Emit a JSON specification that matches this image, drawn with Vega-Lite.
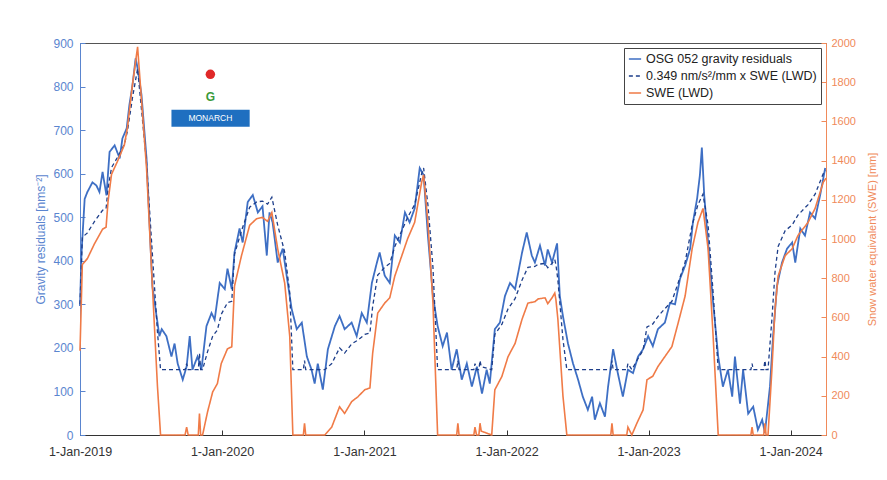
{
  "$schema": "https://vega.github.io/schema/vega-lite/v6.json",
  "width": 746,
  "height": 392,
  "autosize": {"type": "none"},
  "padding": {"left": 80, "top": 43, "right": 61, "bottom": 45},
  "background": "white",
  "config": {
    "font": "Liberation Sans",
    "view": {"stroke": "#555555", "strokeWidth": 1},
    "axis": {"grid": false, "titleFontWeight": "normal", "labelFont": "Liberation Sans", "titleFont": "Liberation Sans"}
  },
  "datasets": {
    "logo_bar": [{"d": "2019-08-24", "d2": "2020-03-12", "v": 747, "v2": 708}],
    "logo_text": [{"d": "2019-12-02", "v": 727, "t": "MONARCH"}],
    "logo_g": [{"d": "2019-12-02", "v": 777, "t": "G"}],
    "logo_dot": [{"d": "2019-12-02", "v": 828}],
    "series": [
      {"d":"2019-01-01","s":"g","v":296},{"d":"2019-01-05","s":"g","v":420},{"d":"2019-01-13","s":"g","v":542},{"d":"2019-01-20","s":"g","v":558},{"d":"2019-02-02","s":"g","v":580},{"d":"2019-02-12","s":"g","v":573},{"d":"2019-02-20","s":"g","v":558},{"d":"2019-02-28","s":"g","v":604},{"d":"2019-03-10","s":"g","v":550},{"d":"2019-03-18","s":"g","v":650},{"d":"2019-03-31","s":"g","v":665},{"d":"2019-04-13","s":"g","v":635},{"d":"2019-04-20","s":"g","v":681},{"d":"2019-05-01","s":"g","v":704},{"d":"2019-05-08","s":"g","v":758},{"d":"2019-05-16","s":"g","v":804},{"d":"2019-05-24","s":"g","v":865},{"d":"2019-05-29","s":"g","v":842},{"d":"2019-06-08","s":"g","v":781},{"d":"2019-06-21","s":"g","v":635},{"d":"2019-07-06","s":"g","v":342},{"d":"2019-07-12","s":"g","v":303},{"d":"2019-07-24","s":"g","v":227},{"d":"2019-07-30","s":"g","v":243},{"d":"2019-08-11","s":"g","v":227},{"d":"2019-08-24","s":"g","v":180},{"d":"2019-09-01","s":"g","v":210},{"d":"2019-09-09","s":"g","v":164},{"d":"2019-09-22","s":"g","v":127},{"d":"2019-10-02","s":"g","v":157},{"d":"2019-10-10","s":"g","v":227},{"d":"2019-10-17","s":"g","v":150},{"d":"2019-10-30","s":"g","v":180},{"d":"2019-11-09","s":"g","v":150},{"d":"2019-11-22","s":"g","v":250},{"d":"2019-12-05","s":"g","v":280},{"d":"2019-12-13","s":"g","v":265},{"d":"2019-12-26","s":"g","v":349},
      {"d":"2020-01-08","s":"g","v":335},{"d":"2020-01-15","s":"g","v":382},{"d":"2020-01-26","s":"g","v":335},{"d":"2020-02-02","s":"g","v":419},{"d":"2020-02-15","s":"g","v":474},{"d":"2020-02-23","s":"g","v":442},{"d":"2020-03-07","s":"g","v":535},{"d":"2020-03-20","s":"g","v":551},{"d":"2020-04-02","s":"g","v":511},{"d":"2020-04-14","s":"g","v":525},{"d":"2020-04-25","s":"g","v":412},{"d":"2020-05-02","s":"g","v":511},{"d":"2020-05-10","s":"g","v":488},{"d":"2020-05-23","s":"g","v":396},{"d":"2020-06-05","s":"g","v":428},{"d":"2020-06-15","s":"g","v":366},{"d":"2020-06-28","s":"g","v":289},{"d":"2020-07-11","s":"g","v":243},{"d":"2020-07-24","s":"g","v":258},{"d":"2020-08-06","s":"g","v":180},{"d":"2020-08-18","s":"g","v":150},{"d":"2020-08-26","s":"g","v":118},{"d":"2020-09-03","s":"g","v":164},{"d":"2020-09-16","s":"g","v":104},{"d":"2020-09-29","s":"g","v":197},{"d":"2020-10-17","s":"g","v":250},{"d":"2020-10-29","s":"g","v":273},{"d":"2020-11-11","s":"g","v":243},{"d":"2020-11-29","s":"g","v":258},{"d":"2020-12-12","s":"g","v":227},{"d":"2020-12-25","s":"g","v":280},
      {"d":"2021-01-07","s":"g","v":258},{"d":"2021-01-20","s":"g","v":349},{"d":"2021-02-02","s":"g","v":396},{"d":"2021-02-09","s":"g","v":419},{"d":"2021-02-22","s":"g","v":366},{"d":"2021-03-07","s":"g","v":349},{"d":"2021-03-20","s":"g","v":458},{"d":"2021-04-02","s":"g","v":442},{"d":"2021-04-15","s":"g","v":511},{"d":"2021-04-27","s":"g","v":488},{"d":"2021-05-10","s":"g","v":520},{"d":"2021-05-23","s":"g","v":613},{"d":"2021-06-02","s":"g","v":597},{"d":"2021-06-13","s":"g","v":458},{"d":"2021-06-26","s":"g","v":319},{"d":"2021-07-08","s":"g","v":250},{"d":"2021-07-21","s":"g","v":204},{"d":"2021-08-01","s":"g","v":235},{"d":"2021-08-13","s":"g","v":150},{"d":"2021-08-26","s":"g","v":197},{"d":"2021-09-08","s":"g","v":127},{"d":"2021-09-21","s":"g","v":164},{"d":"2021-10-04","s":"g","v":111},{"d":"2021-10-17","s":"g","v":157},{"d":"2021-10-30","s":"g","v":95},{"d":"2021-11-11","s":"g","v":150},{"d":"2021-11-19","s":"g","v":118},{"d":"2021-12-02","s":"g","v":243},{"d":"2021-12-15","s":"g","v":258},{"d":"2021-12-28","s":"g","v":319},
      {"d":"2022-01-10","s":"g","v":349},{"d":"2022-01-23","s":"g","v":335},{"d":"2022-02-10","s":"g","v":419},{"d":"2022-02-22","s":"g","v":465},{"d":"2022-03-07","s":"g","v":412},{"d":"2022-03-15","s":"g","v":396},{"d":"2022-03-28","s":"g","v":435},{"d":"2022-04-10","s":"g","v":389},{"d":"2022-04-17","s":"g","v":426},{"d":"2022-04-28","s":"g","v":396},{"d":"2022-05-11","s":"g","v":440},{"d":"2022-05-18","s":"g","v":319},{"d":"2022-05-26","s":"g","v":273},{"d":"2022-06-08","s":"g","v":210},{"d":"2022-06-21","s":"g","v":164},{"d":"2022-07-04","s":"g","v":127},{"d":"2022-07-16","s":"g","v":88},{"d":"2022-07-29","s":"g","v":58},{"d":"2022-08-09","s":"g","v":88},{"d":"2022-08-16","s":"g","v":35},{"d":"2022-08-29","s":"g","v":73},{"d":"2022-09-11","s":"g","v":42},{"d":"2022-09-19","s":"g","v":111},{"d":"2022-10-02","s":"g","v":197},{"d":"2022-10-14","s":"g","v":142},{"d":"2022-10-27","s":"g","v":88},{"d":"2022-11-09","s":"g","v":150},{"d":"2022-11-22","s":"g","v":142},{"d":"2022-12-05","s":"g","v":180},{"d":"2022-12-18","s":"g","v":197},{"d":"2022-12-31","s":"g","v":227},
      {"d":"2023-01-12","s":"g","v":204},{"d":"2023-01-25","s":"g","v":243},{"d":"2023-02-12","s":"g","v":258},{"d":"2023-02-25","s":"g","v":303},{"d":"2023-03-10","s":"g","v":300},{"d":"2023-03-23","s":"g","v":359},{"d":"2023-04-05","s":"g","v":389},{"d":"2023-04-18","s":"g","v":428},{"d":"2023-04-25","s":"g","v":488},{"d":"2023-05-06","s":"g","v":544},{"d":"2023-05-13","s":"g","v":597},{"d":"2023-05-18","s":"g","v":660},{"d":"2023-05-24","s":"g","v":551},{"d":"2023-06-03","s":"g","v":442},{"d":"2023-06-16","s":"g","v":303},{"d":"2023-06-29","s":"g","v":180},{"d":"2023-07-11","s":"g","v":111},{"d":"2023-07-24","s":"g","v":150},{"d":"2023-08-04","s":"g","v":88},{"d":"2023-08-11","s":"g","v":180},{"d":"2023-08-24","s":"g","v":72},{"d":"2023-09-01","s":"g","v":150},{"d":"2023-09-14","s":"g","v":49},{"d":"2023-09-27","s":"g","v":65},{"d":"2023-10-09","s":"g","v":12},{"d":"2023-10-20","s":"g","v":35},{"d":"2023-10-27","s":"g","v":5},{"d":"2023-11-09","s":"g","v":111},{"d":"2023-11-17","s":"g","v":227},{"d":"2023-11-27","s":"g","v":342},{"d":"2023-12-10","s":"g","v":396},{"d":"2023-12-23","s":"g","v":428},
      {"d":"2024-01-05","s":"g","v":442},{"d":"2024-01-13","s":"g","v":396},{"d":"2024-01-26","s":"g","v":474},{"d":"2024-02-07","s":"g","v":458},{"d":"2024-02-20","s":"g","v":511},{"d":"2024-03-04","s":"g","v":497},{"d":"2024-03-17","s":"g","v":551},{"d":"2024-03-30","s":"g","v":613},

      {"d":"2019-01-01","s":"w","v":430},{"d":"2019-01-07","s":"w","v":870},{"d":"2019-01-20","s":"w","v":900},{"d":"2019-02-07","s":"w","v":975},{"d":"2019-02-28","s":"w","v":1050},{"d":"2019-03-09","s":"w","v":1060},{"d":"2019-03-14","s":"w","v":1190},{"d":"2019-03-23","s":"w","v":1330},{"d":"2019-04-07","s":"w","v":1395},{"d":"2019-04-25","s":"w","v":1480},{"d":"2019-05-03","s":"w","v":1570},{"d":"2019-05-16","s":"w","v":1790},{"d":"2019-05-29","s":"w","v":1980},{"d":"2019-06-21","s":"w","v":1360},{"d":"2019-07-06","s":"w","v":760},{"d":"2019-07-19","s":"w","v":250},{"d":"2019-07-27","s":"w","v":0},{"d":"2019-09-28","s":"w","v":0},{"d":"2019-10-02","s":"w","v":40},{"d":"2019-10-06","s":"w","v":0},{"d":"2019-11-01","s":"w","v":0},{"d":"2019-11-04","s":"w","v":110},{"d":"2019-11-07","s":"w","v":0},{"d":"2019-11-12","s":"w","v":0},{"d":"2019-11-25","s":"w","v":120},{"d":"2019-12-08","s":"w","v":220},{"d":"2019-12-20","s":"w","v":262},{"d":"2019-12-30","s":"w","v":365},
      {"d":"2020-01-15","s":"w","v":440},{"d":"2020-01-26","s":"w","v":450},{"d":"2020-02-02","s":"w","v":760},{"d":"2020-02-20","s":"w","v":915},{"d":"2020-03-12","s":"w","v":1070},{"d":"2020-03-30","s":"w","v":1104},{"d":"2020-04-14","s":"w","v":1110},{"d":"2020-04-27","s":"w","v":1090},{"d":"2020-05-08","s":"w","v":1135},{"d":"2020-05-23","s":"w","v":950},{"d":"2020-06-10","s":"w","v":775},{"d":"2020-06-23","s":"w","v":503},{"d":"2020-07-01","s":"w","v":0},{"d":"2020-07-28","s":"w","v":0},{"d":"2020-07-31","s":"w","v":60},{"d":"2020-08-03","s":"w","v":0},{"d":"2020-09-21","s":"w","v":0},{"d":"2020-10-09","s":"w","v":41},{"d":"2020-10-29","s":"w","v":144},{"d":"2020-11-11","s":"w","v":110},{"d":"2020-11-29","s":"w","v":170},{"d":"2020-12-15","s":"w","v":195},
      {"d":"2021-01-02","s":"w","v":231},{"d":"2021-01-15","s":"w","v":240},{"d":"2021-01-22","s":"w","v":416},{"d":"2021-02-04","s":"w","v":622},{"d":"2021-02-22","s":"w","v":673},{"d":"2021-03-07","s":"w","v":700},{"d":"2021-03-20","s":"w","v":811},{"d":"2021-04-07","s":"w","v":915},{"d":"2021-04-22","s":"w","v":1002},{"d":"2021-05-10","s":"w","v":1085},{"d":"2021-05-28","s":"w","v":1290},{"d":"2021-06-02","s":"w","v":1327},{"d":"2021-06-13","s":"w","v":1085},{"d":"2021-06-26","s":"w","v":673},{"d":"2021-07-08","s":"w","v":0},{"d":"2021-08-26","s":"w","v":0},{"d":"2021-08-29","s":"w","v":60},{"d":"2021-09-01","s":"w","v":0},{"d":"2021-10-09","s":"w","v":0},{"d":"2021-10-12","s":"w","v":40},{"d":"2021-10-16","s":"w","v":0},{"d":"2021-10-22","s":"w","v":0},{"d":"2021-10-25","s":"w","v":60},{"d":"2021-10-28","s":"w","v":20},{"d":"2021-11-24","s":"w","v":0},{"d":"2021-12-02","s":"w","v":231},{"d":"2021-12-20","s":"w","v":298},
      {"d":"2022-01-05","s":"w","v":400},{"d":"2022-01-23","s":"w","v":467},{"d":"2022-02-10","s":"w","v":591},{"d":"2022-02-25","s":"w","v":673},{"d":"2022-03-15","s":"w","v":680},{"d":"2022-03-23","s":"w","v":694},{"d":"2022-04-10","s":"w","v":700},{"d":"2022-04-17","s":"w","v":670},{"d":"2022-04-28","s":"w","v":700},{"d":"2022-05-05","s":"w","v":724},{"d":"2022-05-08","s":"w","v":690},{"d":"2022-05-13","s":"w","v":591},{"d":"2022-05-26","s":"w","v":200},{"d":"2022-06-05","s":"w","v":0},{"d":"2022-09-26","s":"w","v":0},{"d":"2022-09-29","s":"w","v":60},{"d":"2022-10-02","s":"w","v":0},{"d":"2022-11-06","s":"w","v":0},{"d":"2022-11-09","s":"w","v":40},{"d":"2022-11-19","s":"w","v":0},{"d":"2022-12-02","s":"w","v":60},{"d":"2022-12-18","s":"w","v":128},{"d":"2022-12-28","s":"w","v":282},
      {"d":"2023-01-12","s":"w","v":300},{"d":"2023-01-25","s":"w","v":349},{"d":"2023-02-12","s":"w","v":400},{"d":"2023-03-02","s":"w","v":451},{"d":"2023-03-18","s":"w","v":571},{"d":"2023-04-05","s":"w","v":709},{"d":"2023-04-23","s":"w","v":950},{"d":"2023-05-08","s":"w","v":1085},{"d":"2023-05-21","s":"w","v":1156},{"d":"2023-06-03","s":"w","v":950},{"d":"2023-06-16","s":"w","v":503},{"d":"2023-06-29","s":"w","v":0},{"d":"2023-09-21","s":"w","v":0},{"d":"2023-09-24","s":"w","v":40},{"d":"2023-09-27","s":"w","v":0},{"d":"2023-10-24","s":"w","v":0},{"d":"2023-10-27","s":"w","v":60},{"d":"2023-10-30","s":"w","v":0},{"d":"2023-11-04","s":"w","v":0},{"d":"2023-11-14","s":"w","v":333},{"d":"2023-11-22","s":"w","v":642},{"d":"2023-11-30","s":"w","v":811},{"d":"2023-12-18","s":"w","v":915},
      {"d":"2024-01-05","s":"w","v":950},{"d":"2024-01-20","s":"w","v":1018},{"d":"2024-02-15","s":"w","v":1085},{"d":"2024-03-04","s":"w","v":1156},{"d":"2024-03-25","s":"w","v":1290},{"d":"2024-04-01","s":"w","v":1310},

      {"d":"2019-01-01","s":"m","v":300},{"d":"2019-01-07","s":"m","v":454},{"d":"2019-01-20","s":"m","v":464},{"d":"2019-02-07","s":"m","v":490},{"d":"2019-02-28","s":"m","v":516},{"d":"2019-03-09","s":"m","v":520},{"d":"2019-03-14","s":"m","v":565},{"d":"2019-03-23","s":"m","v":614},{"d":"2019-04-07","s":"m","v":637},{"d":"2019-04-25","s":"m","v":667},{"d":"2019-05-03","s":"m","v":698},{"d":"2019-05-16","s":"m","v":775},{"d":"2019-05-29","s":"m","v":841},{"d":"2019-06-21","s":"m","v":625},{"d":"2019-07-06","s":"m","v":415},{"d":"2019-07-19","s":"m","v":237},{"d":"2019-07-27","s":"m","v":150},{"d":"2019-09-28","s":"m","v":150},{"d":"2019-10-02","s":"m","v":164},{"d":"2019-10-06","s":"m","v":150},{"d":"2019-11-01","s":"m","v":150},{"d":"2019-11-04","s":"m","v":188},{"d":"2019-11-07","s":"m","v":150},{"d":"2019-11-12","s":"m","v":150},{"d":"2019-11-25","s":"m","v":192},{"d":"2019-12-08","s":"m","v":227},{"d":"2019-12-20","s":"m","v":241},{"d":"2019-12-30","s":"m","v":277},
      {"d":"2020-01-15","s":"m","v":304},{"d":"2020-01-26","s":"m","v":307},{"d":"2020-02-02","s":"m","v":415},{"d":"2020-02-20","s":"m","v":469},{"d":"2020-03-12","s":"m","v":523},{"d":"2020-03-30","s":"m","v":535},{"d":"2020-04-14","s":"m","v":537},{"d":"2020-04-27","s":"m","v":530},{"d":"2020-05-08","s":"m","v":546},{"d":"2020-05-23","s":"m","v":482},{"d":"2020-06-10","s":"m","v":420},{"d":"2020-06-23","s":"m","v":326},{"d":"2020-07-01","s":"m","v":150},{"d":"2020-07-28","s":"m","v":150},{"d":"2020-07-31","s":"m","v":171},{"d":"2020-08-03","s":"m","v":150},{"d":"2020-09-21","s":"m","v":150},{"d":"2020-10-09","s":"m","v":164},{"d":"2020-10-29","s":"m","v":200},{"d":"2020-11-11","s":"m","v":188},{"d":"2020-11-29","s":"m","v":209},{"d":"2020-12-15","s":"m","v":218},
      {"d":"2021-01-02","s":"m","v":231},{"d":"2021-01-15","s":"m","v":234},{"d":"2021-01-22","s":"m","v":295},{"d":"2021-02-04","s":"m","v":367},{"d":"2021-02-22","s":"m","v":385},{"d":"2021-03-07","s":"m","v":394},{"d":"2021-03-20","s":"m","v":433},{"d":"2021-04-07","s":"m","v":469},{"d":"2021-04-22","s":"m","v":500},{"d":"2021-05-10","s":"m","v":529},{"d":"2021-05-28","s":"m","v":600},{"d":"2021-06-02","s":"m","v":613},{"d":"2021-06-13","s":"m","v":529},{"d":"2021-06-26","s":"m","v":385},{"d":"2021-07-08","s":"m","v":150},{"d":"2021-08-26","s":"m","v":150},{"d":"2021-08-29","s":"m","v":171},{"d":"2021-09-01","s":"m","v":150},{"d":"2021-10-09","s":"m","v":150},{"d":"2021-10-12","s":"m","v":164},{"d":"2021-10-16","s":"m","v":150},{"d":"2021-10-22","s":"m","v":150},{"d":"2021-10-25","s":"m","v":171},{"d":"2021-10-28","s":"m","v":157},{"d":"2021-11-24","s":"m","v":150},{"d":"2021-12-02","s":"m","v":231},{"d":"2021-12-20","s":"m","v":254},
      {"d":"2022-01-05","s":"m","v":290},{"d":"2022-01-23","s":"m","v":313},{"d":"2022-02-10","s":"m","v":356},{"d":"2022-02-25","s":"m","v":385},{"d":"2022-03-15","s":"m","v":387},{"d":"2022-03-23","s":"m","v":392},{"d":"2022-04-10","s":"m","v":394},{"d":"2022-04-17","s":"m","v":384},{"d":"2022-04-28","s":"m","v":394},{"d":"2022-05-05","s":"m","v":403},{"d":"2022-05-08","s":"m","v":391},{"d":"2022-05-13","s":"m","v":356},{"d":"2022-05-26","s":"m","v":220},{"d":"2022-06-05","s":"m","v":150},{"d":"2022-09-26","s":"m","v":150},{"d":"2022-09-29","s":"m","v":171},{"d":"2022-10-02","s":"m","v":150},{"d":"2022-11-06","s":"m","v":150},{"d":"2022-11-09","s":"m","v":164},{"d":"2022-11-19","s":"m","v":150},{"d":"2022-12-02","s":"m","v":171},{"d":"2022-12-18","s":"m","v":195},{"d":"2022-12-28","s":"m","v":248},
      {"d":"2023-01-12","s":"m","v":255},{"d":"2023-01-25","s":"m","v":272},{"d":"2023-02-12","s":"m","v":290},{"d":"2023-03-02","s":"m","v":307},{"d":"2023-03-18","s":"m","v":349},{"d":"2023-04-05","s":"m","v":397},{"d":"2023-04-23","s":"m","v":482},{"d":"2023-05-08","s":"m","v":529},{"d":"2023-05-21","s":"m","v":553},{"d":"2023-06-03","s":"m","v":482},{"d":"2023-06-16","s":"m","v":326},{"d":"2023-06-29","s":"m","v":150},{"d":"2023-09-21","s":"m","v":150},{"d":"2023-09-24","s":"m","v":164},{"d":"2023-09-27","s":"m","v":150},{"d":"2023-10-24","s":"m","v":150},{"d":"2023-10-27","s":"m","v":171},{"d":"2023-10-30","s":"m","v":150},{"d":"2023-11-04","s":"m","v":150},{"d":"2023-11-14","s":"m","v":266},{"d":"2023-11-22","s":"m","v":374},{"d":"2023-11-30","s":"m","v":433},{"d":"2023-12-18","s":"m","v":469},
      {"d":"2024-01-05","s":"m","v":482},{"d":"2024-01-20","s":"m","v":505},{"d":"2024-02-15","s":"m","v":529},{"d":"2024-03-04","s":"m","v":553},{"d":"2024-03-25","s":"m","v":600},{"d":"2024-04-01","s":"m","v":607}
    ]
  },
  "data": {"name": "series"},
  "encoding": {
    "x": {
      "field": "d",
      "type": "temporal",
      "scale": {"type": "utc", "domain": [{"year": 2019, "month": 1, "date": 1, "utc": true}, {"year": 2024, "month": 4, "date": 1, "utc": true}]},
      "axis": {
        "title": null,
        "values": [
          {"year": 2019, "month": 1, "date": 1, "utc": true},
          {"year": 2020, "month": 1, "date": 1, "utc": true},
          {"year": 2021, "month": 1, "date": 1, "utc": true},
          {"year": 2022, "month": 1, "date": 1, "utc": true},
          {"year": 2023, "month": 1, "date": 1, "utc": true},
          {"year": 2024, "month": 1, "date": 1, "utc": true}
        ],
        "format": "%-d-%b-%Y",
        "labelFontSize": 12.5,
        "labelColor": "#333333",
        "domainColor": "#333333",
        "tickColor": "#333333",
        "tickSize": -5,
        "labelPadding": 15,
        "labelFlush": false
      }
    }
  },
  "layer": [
    {
      "encoding": {
        "y": {
          "field": "v",
          "type": "quantitative",
          "scale": {"domain": [0, 900], "nice": false},
          "axis": {
            "orient": "left",
            "values": [0, 100, 200, 300, 400, 500, 600, 700, 800, 900],
            "title": "Gravity residuals [nms⁻²]",
            "titleColor": "#5a85cf",
            "titleFontSize": 12,
            "titlePadding": 5,
            "labelColor": "#5a85cf",
            "labelFontSize": 12,
            "domainColor": "#5a85cf",
            "tickColor": "#5a85cf",
            "tickSize": -5,
            "labelPadding": 12
          }
        }
      },
      "layer": [
        {
          "transform": [{"filter": "datum.s === 'g'"}],
          "mark": {"type": "line", "strokeWidth": 1.8},
          "encoding": {
            "color": {"field": "s", "type": "nominal", "scale": {"domain": ["g", "m", "w"], "range": ["#3e6fc4", "#1d3e8a", "#f07b47"]},
              "legend": {"title": null, "orient": "top-right", "offset": 5, "labelLimit": 400, "labelExpr": "datum.label === 'g' ? 'OSG 052 gravity residuals' : datum.label === 'm' ? '0.349 nm/s²/mm x SWE (LWD)' : 'SWE (LWD)'", "strokeColor": "#444444", "fillColor": "white", "padding": 4, "labelFontSize": 12.5, "labelColor": "#222222", "symbolType": "stroke", "symbolSize": 150, "symbolStrokeWidth": 1.5, "rowPadding": 3}},
            "strokeDash": {"field": "s", "type": "nominal", "scale": {"domain": ["g", "m", "w"], "range": [[1, 0], [4, 3], [1, 0]]},
              "legend": {"title": null, "orient": "top-right", "offset": 5, "labelLimit": 400, "labelExpr": "datum.label === 'g' ? 'OSG 052 gravity residuals' : datum.label === 'm' ? '0.349 nm/s²/mm x SWE (LWD)' : 'SWE (LWD)'", "strokeColor": "#444444", "fillColor": "white", "padding": 4, "labelFontSize": 12.5, "labelColor": "#222222", "symbolType": "stroke", "symbolSize": 150, "symbolStrokeWidth": 1.5, "rowPadding": 3}}
          }
        },
        {
          "transform": [{"filter": "datum.s === 'm'"}],
          "mark": {"type": "line", "strokeWidth": 1.3},
          "encoding": {
            "color": {"field": "s", "type": "nominal"},
            "strokeDash": {"field": "s", "type": "nominal"}
          }
        },
        {
          "data": {"name": "logo_bar"},
          "mark": {"type": "rect", "color": "#1f6fc0"},
          "encoding": {
            "x": {"field": "d", "type": "temporal"},
            "x2": {"field": "d2"},
            "y": {"field": "v", "type": "quantitative"},
            "y2": {"field": "v2"}
          }
        },
        {
          "data": {"name": "logo_text"},
          "mark": {"type": "text", "color": "white", "fontSize": 8.5},
          "encoding": {
            "x": {"field": "d", "type": "temporal"},
            "y": {"field": "v", "type": "quantitative"},
            "text": {"field": "t"}
          }
        },
        {
          "data": {"name": "logo_dot"},
          "mark": {"type": "point", "filled": true, "color": "#e02828", "size": 90, "opacity": 1},
          "encoding": {
            "x": {"field": "d", "type": "temporal"},
            "y": {"field": "v", "type": "quantitative"}
          }
        },
        {
          "data": {"name": "logo_g"},
          "mark": {"type": "text", "color": "#3a9a3a", "fontSize": 12, "fontWeight": "bold"},
          "encoding": {
            "x": {"field": "d", "type": "temporal"},
            "y": {"field": "v", "type": "quantitative"},
            "text": {"field": "t"}
          }
        }
      ]
    },
    {
      "transform": [{"filter": "datum.s === 'w'"}],
      "mark": {"type": "line", "strokeWidth": 1.6},
      "encoding": {
        "y": {
          "field": "v",
          "type": "quantitative",
          "scale": {"domain": [0, 2000], "nice": false},
          "axis": {
            "orient": "right",
            "values": [0, 200, 400, 600, 800, 1000, 1200, 1400, 1600, 1800, 2000],
            "format": "d",
            "title": "Snow water equivalent (SWE) [mm]",
            "titleAngle": 270,
            "titleColor": "#f08a5a",
            "titleFontSize": 11,
            "titlePadding": 22,
            "labelColor": "#f08a5a",
            "labelFontSize": 11,
            "domainColor": "#f08a5a",
            "tickColor": "#f08a5a",
            "tickSize": -5,
            "labelPadding": 10
          }
        },
        "color": {"field": "s", "type": "nominal"},
        "strokeDash": {"field": "s", "type": "nominal"}
      }
    }
  ],
  "resolve": {"scale": {"y": "independent"}}
}
